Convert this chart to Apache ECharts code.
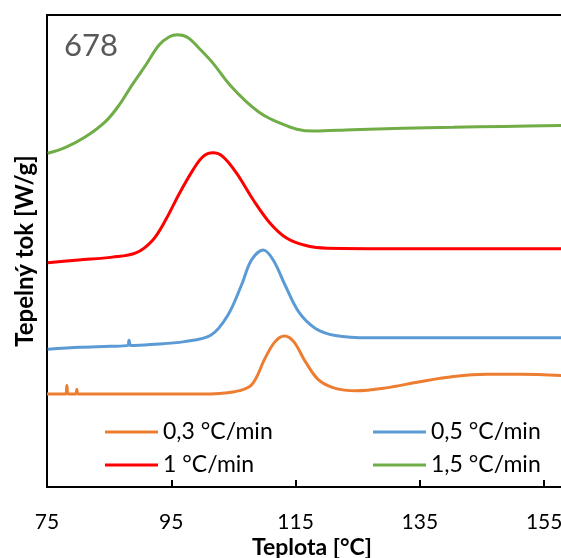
<!DOCTYPE html>
<html>
<head>
<meta charset="utf-8">
<script src="https://cdn.jsdelivr.net/npm/echarts@6/dist/echarts.min.js"></script>
<style>html,body{margin:0;padding:0;background:#fff}#c{width:561px;height:558px}</style>
</head>
<body>
<div id="c"></div>
<script>
// Temperature [°C] / heat flow (arbitrary offset units)
const seriesNames = ['0,3 °C/min', '0,5 °C/min', '1 °C/min', '1,5 °C/min'];
const seriesColors = ['#ED7D31', '#5B9BD5', '#FF0000', '#70AD47'];

const orangeT = [75.0, 78.0, 78.2, 78.4, 79.6, 79.8, 80.0, 86.8, 99.8, 105.2, 107.9, 110.1, 111.7, 113.2, 114.7, 116.6, 118.7, 121.4, 124.7, 129.5, 135.0, 140.4, 145.8, 151.2, 158.3];
const orangeV = [19.7, 19.7, 21.5, 19.7, 19.7, 20.7, 19.7, 19.7, 19.7, 20.2, 21.6, 27.3, 30.8, 32.0, 30.8, 26.5, 22.7, 20.9, 20.4, 21.0, 22.3, 23.4, 23.9, 23.9, 23.6];

const blueT = [75.1, 80.4, 85.2, 88.0, 88.2, 88.5, 91.7, 97.1, 101.4, 104.1, 106.3, 107.9, 109.8, 111.4, 113.3, 115.5, 118.2, 121.4, 126.8, 140.4, 158.3];
const blueV = [29.2, 29.6, 29.8, 30.0, 31.1, 30.0, 30.2, 30.8, 32.2, 36.4, 42.8, 48.1, 50.2, 48.1, 42.8, 37.1, 33.6, 32.1, 31.6, 31.6, 31.6];

const redT = [75.1, 80.1, 85.5, 89.3, 92.0, 94.1, 96.3, 98.5, 100.1, 101.7, 103.3, 105.5, 108.2, 110.9, 113.6, 116.8, 120.1, 132.2, 145.2, 158.3];
const redV = [47.5, 48.1, 48.7, 49.6, 52.3, 56.6, 62.2, 67.2, 70.0, 70.8, 70.0, 66.5, 60.8, 55.9, 52.7, 51.1, 50.6, 50.5, 50.5, 50.5];

const greenT = [75.1, 77.9, 81.2, 84.4, 86.6, 88.7, 90.9, 93.0, 94.7, 96.0, 97.7, 99.5, 101.7, 104.4, 107.1, 109.8, 112.5, 115.2, 117.9, 124.1, 132.2, 140.3, 148.5, 158.3];
const greenV = [70.7, 71.9, 74.2, 77.4, 80.9, 85.2, 89.4, 93.6, 95.4, 95.8, 95.2, 92.9, 89.8, 85.2, 81.6, 78.8, 77.1, 75.8, 75.4, 75.7, 76.0, 76.2, 76.4, 76.6];

const xTicks = [75, 95, 115, 135, 155];
const sampleLabel = '678';
const xTitle = 'Teplota [°C]';
const yTitle = 'Tepelný tok [W/g]';

const pair = (t, v) => t.map((x, i) => [x, v[i]]);
const allData = [pair(orangeT, orangeV), pair(blueT, blueV), pair(redT, redV), pair(greenT, greenV)];

const FONT = 'Lato';
const legendText = {fontFamily: FONT, fontSize: 23, color: '#000', lineHeight: 26};
const chart = echarts.init(document.getElementById('c'), null, {renderer: 'canvas'});
chart.setOption({
  animation: false,
  backgroundColor: '#fff',
  grid: {left: 47, top: 15, right: -4, bottom: 71, show: true, borderColor: '#000', borderWidth: 2,
         containLabel: false, outerBoundsMode: 'none'},
  xAxis: {
    type: 'value', min: 75, max: 158.35, interval: 20,
    axisLine: {show: true, lineStyle: {color: '#000', width: 2}},
    axisTick: {show: true, inside: true, length: 7, lineStyle: {color: '#000', width: 2}},
    axisLabel: {fontFamily: FONT, fontSize: 21, color: '#000', margin: 25,
      formatter: v => xTicks.includes(Math.round(v * 100) / 100) ? String(v) : ''},
    splitLine: {show: false}
  },
  yAxis: {
    type: 'value', min: 0, max: 100,
    name: yTitle, nameLocation: 'middle', nameGap: 10, nameMoveOverlap: false,
    nameTextStyle: {fontFamily: FONT, fontWeight: 'bold', fontSize: 24, color: '#000'},
    axisLine: {show: true, lineStyle: {color: '#000', width: 2}},
    axisTick: {show: false}, axisLabel: {show: false}, splitLine: {show: false}
  },
  legend: [
    {data: [seriesNames[0], seriesNames[2]], orient: 'vertical', left: 100, top: 414, icon: 'rect',
     itemWidth: 53, itemHeight: 3, itemGap: 7, textStyle: legendText},
    {data: [seriesNames[1], seriesNames[3]], orient: 'vertical', left: 368, top: 414, icon: 'rect',
     itemWidth: 53, itemHeight: 3, itemGap: 7, textStyle: legendText}
  ],
  graphic: [
    {type: 'text', left: 64, top: 30, style: {text: sampleLabel, font: '31px Lato', fill: '#595959'}},
    {type: 'text', x: 312, y: 536, style: {text: xTitle, font: 'bold 23px Lato', fill: '#000', align: 'center', verticalAlign: 'top'}}
  ],
  series: allData.map((d, i) => ({
    name: seriesNames[i], type: 'line', data: d, showSymbol: false,
    smooth: 0.35,
    color: seriesColors[i],
    lineStyle: {color: seriesColors[i], width: 3}
  }))
});
</script>
</body>
</html>
